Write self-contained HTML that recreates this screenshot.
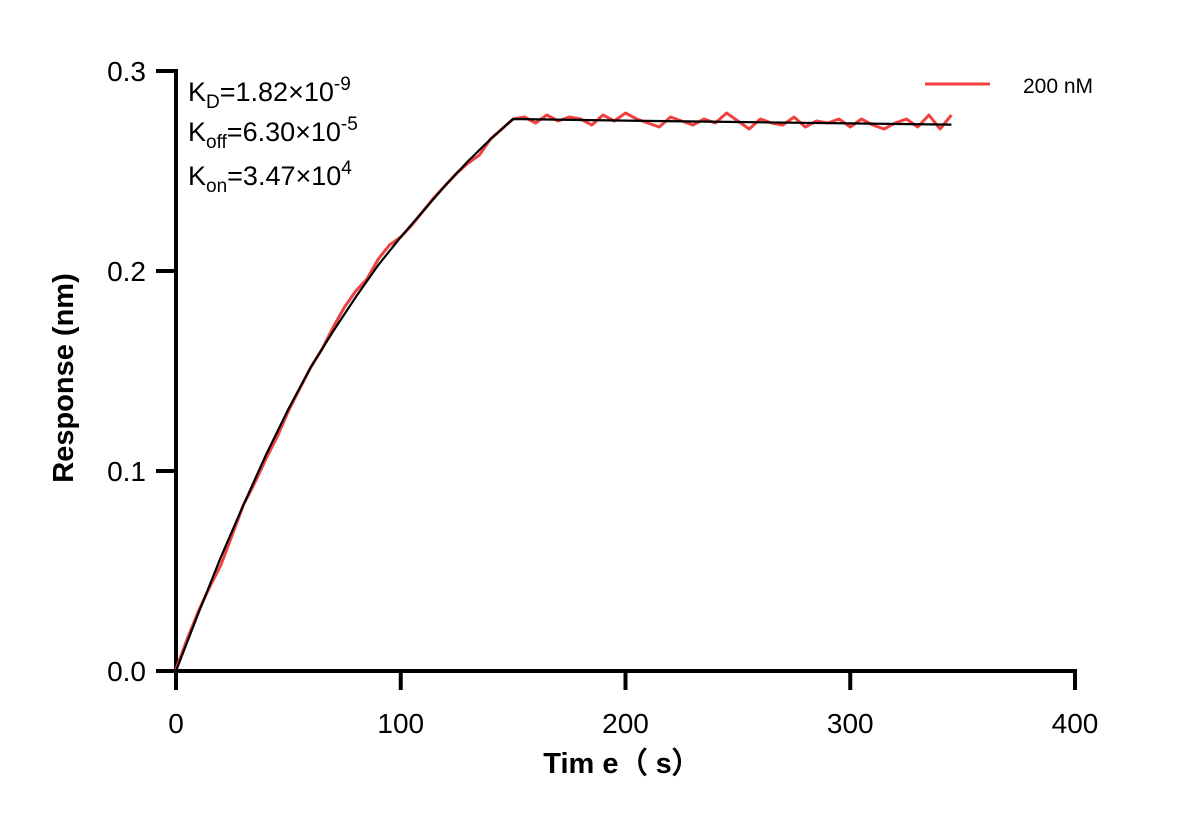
<!DOCTYPE html>
<html><head><meta charset="utf-8"><style>
body{margin:0;background:#fff}
svg{font-family:"Liberation Sans",Arial,sans-serif}
</style></head><body>
<svg width="1187" height="825" viewBox="0 0 1187 825">
<g id="axes"></g>
<g id="series"></g>
<text x="188" y="101" font-size="27">K<tspan font-size="19" dy="7">D</tspan><tspan dy="-7">=1.82×10</tspan><tspan font-size="19" dy="-11">-9</tspan></text>
<text x="188" y="141" font-size="27">K<tspan font-size="19" dy="7">off</tspan><tspan dy="-7">=6.30×10</tspan><tspan font-size="19" dy="-11">-5</tspan></text>
<text x="188" y="185" font-size="27">K<tspan font-size="19" dy="7">on</tspan><tspan dy="-7">=3.47×10</tspan><tspan font-size="19" dy="-11">4</tspan></text>
<line x1="925" y1="84" x2="990" y2="84" stroke="#f04040" stroke-width="3"/>
<text x="1023" y="93" font-size="21">200 nM</text>
<text x="622" y="773" font-size="29" font-weight="bold" text-anchor="middle">Tim e（ s）</text>
<text transform="translate(73,378) rotate(-90)" font-size="29" font-weight="bold" text-anchor="middle">Response (nm)</text>
</svg>
<script>
const xTicks=[0,100,200,300,400];
const yTicks=[0.0,0.1,0.2,0.3];
const yTickLabels=["0.0","0.1","0.2","0.3"];
const fitTimes=[0,10,20,30,40,50,60,70,80,90,100,110,120,130,140,150,200,250,300,345];
const fitValues=[0,0.029,0.057,0.083,0.108,0.131,0.152,0.170,0.187,0.203,0.217,0.230,0.243,0.255,0.266,0.276,0.2752,0.2745,0.2738,0.2732];
const dataTimes=[0,5,10,15,20,25,30,35,40,45,50,55,60,65,70,75,80,85,90,95,100,105,110,115,120,125,130,135,140,145,150,155,160,165,170,175,180,185,190,195,200,205,210,215,220,225,230,235,240,245,250,255,260,265,270,275,280,285,290,295,300,305,310,315,320,325,330,335,340,345];
const dataValues=[0.001,0.016,0.030,0.042,0.053,0.068,0.083,0.094,0.106,0.117,0.130,0.141,0.152,0.161,0.172,0.182,0.190,0.196,0.206,0.213,0.217,0.223,0.230,0.237,0.243,0.249,0.254,0.258,0.266,0.271,0.276,0.277,0.274,0.278,0.275,0.277,0.276,0.273,0.278,0.275,0.279,0.276,0.274,0.272,0.277,0.275,0.273,0.276,0.274,0.279,0.275,0.271,0.276,0.274,0.273,0.277,0.272,0.275,0.274,0.276,0.272,0.276,0.273,0.271,0.274,0.276,0.272,0.278,0.271,0.278];
const NS="http://www.w3.org/2000/svg";
const X=v=>176+v*(1075-176)/400;
const Y=v=>671-v*2000;
const ax=document.getElementById('axes'), se=document.getElementById('series');
function mk(tag,attrs,parent){const e=document.createElementNS(NS,tag);for(const k in attrs)e.setAttribute(k,attrs[k]);parent.appendChild(e);return e;}
let l=mk('line',{x1:174,y1:671,x2:1077,y2:671,stroke:'#000','stroke-width':4},ax);


l=mk('line',{x1:176,y1:69,x2:176,y2:673,stroke:'#000','stroke-width':4},ax);


xTicks.forEach(t=>{
 const tk=mk('line',{x1:X(t),y1:671,x2:X(t),y2:690,stroke:'#000','stroke-width':4},ax);
 
 
 const tx=mk('text',{x:X(t),y:733,'font-size':28,'text-anchor':'middle'},ax);tx.textContent=t;
 
 
});
yTicks.forEach((t,i)=>{
 const tk=mk('line',{x1:156,y1:Y(t),x2:176,y2:Y(t),stroke:'#000','stroke-width':4},ax);
 
 
 const tx=mk('text',{x:146,y:Y(t)+10,'font-size':28,'text-anchor':'end'},ax);tx.textContent=yTickLabels[i];
 
 
});
let d=dataTimes.map((t,i)=>(i?'L':'M')+X(t).toFixed(1)+','+Y(dataValues[i]).toFixed(1)).join('');
const p1=mk('path',{d:d,fill:'none',stroke:'#f04040','stroke-width':3,'stroke-linejoin':'round'},se);


d=fitTimes.map((t,i)=>(i?'L':'M')+X(t).toFixed(1)+','+Y(fitValues[i]).toFixed(1)).join('');
const p2=mk('path',{d:d,fill:'none',stroke:'#000','stroke-width':2.2},se);


</script>
</body></html>
